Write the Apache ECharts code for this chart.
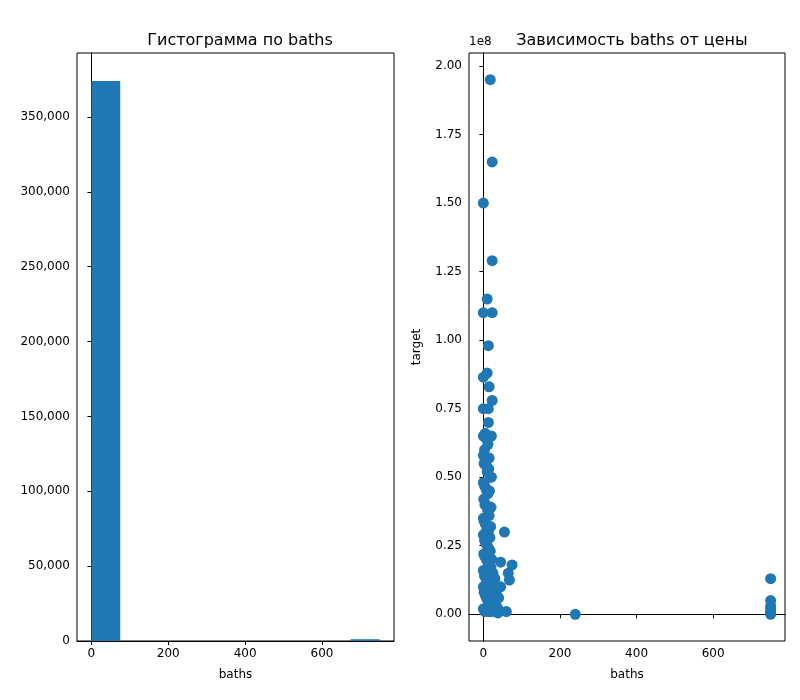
<!DOCTYPE html>
<html>
<head>
<meta charset="utf-8">
<script src="https://cdn.jsdelivr.net/npm/echarts@6/dist/echarts.min.js"></script>
<style>html,body{margin:0;padding:0;background:#fff}#main{width:800px;height:700px}</style>
</head>
<body>
<div id="main"></div>
<script>
// гистограмма: 10 корзин по 75
var binStarts = [0, 75, 150, 225, 300, 375, 450, 525, 600, 675];
var binCounts = [374000, 40, 5, 10, 0, 0, 0, 0, 0, 1200];
var histTicks = [0, 50000, 100000, 150000, 200000, 250000, 300000, 350000];

// scatter: baths vs target (target в единицах 1e8)
var baths = [18, 23, 0, 23, 10, 0, 23, 13, 0, 10, 15, 23, 0, 13, 13, 21, 0, 5, 8, 12, 3, 15, 21,
  0, 2, 5, 8, 10, 14, 18, 0, 3, 6, 9, 12, 16, 20, 1, 4, 7, 11, 15, 19, 0, 2, 5, 9, 13, 17,
  0, 3, 6, 10, 14, 18, 22, 1, 4, 8, 12, 16, 20, 25, 30, 0, 3, 7, 11, 15, 20, 25, 30, 35, 40,
  0, 2, 5, 8, 12, 16, 22, 28, 34, 38, 0, 4, 9, 14, 20, 26, 32, 38, 45, 55, 45, 75, 65, 68, 60, 240,
  750, 750, 750, 750, 750, 750, 750];
var target = [1.95, 1.65, 1.50, 1.29, 1.15, 1.10, 1.10, 0.98, 0.865, 0.88, 0.83, 0.78, 0.75, 0.75, 0.70, 0.65, 0.65, 0.66, 0.64, 0.62, 0.60, 0.57, 0.50,
  0.58, 0.55, 0.56, 0.54, 0.52, 0.53, 0.50, 0.48, 0.47, 0.46, 0.45, 0.44, 0.45, 0.39, 0.42, 0.40, 0.40, 0.38, 0.36, 0.32, 0.35, 0.34, 0.33, 0.31, 0.30, 0.28,
  0.29, 0.27, 0.26, 0.25, 0.24, 0.23, 0.20, 0.22, 0.21, 0.20, 0.19, 0.18, 0.17, 0.15, 0.13, 0.16, 0.14, 0.13, 0.12, 0.11, 0.10, 0.09, 0.08, 0.07, 0.06,
  0.10, 0.08, 0.07, 0.06, 0.05, 0.04, 0.05, 0.04, 0.03, 0.02, 0.02, 0.01, 0.02, 0.01, 0.01, 0.02, 0.01, 0.005, 0.10, 0.30, 0.19, 0.18, 0.15, 0.125, 0.01, 0.0,
  0.13, 0.05, 0.03, 0.02, 0.01, 0.005, 0.0];
var xTicks = [0, 200, 400, 600];
var yTicks = [0, 0.25, 0.5, 0.75, 1.0, 1.25, 1.5, 1.75, 2.0];

var histData = binStarts.map(function (s, i) { return [s, s + 75, binCounts[i]]; });
var pts = baths.map(function (b, i) { return [b, target[i]]; });

var blue = '#1f77b4';
var txt = { color: '#000', fontFamily: 'DejaVu Sans', fontSize: 12 };
function axLine() { return { show: true, lineStyle: { color: '#000', width: 1 } }; }

var chart = echarts.init(document.getElementById('main'));
var option = {
  animation: false,
  title: [
    { text: 'Гистограмма по baths', left: 235, top: 28, textAlign: 'center',
      textStyle: { fontFamily: 'DejaVu Sans', fontSize: 16, fontWeight: 'normal', color: '#000' } },
    { text: 'Зависимость baths от цены', left: 627, top: 28, textAlign: 'center',
      textStyle: { fontFamily: 'DejaVu Sans', fontSize: 16, fontWeight: 'normal', color: '#000' } }
  ],
  grid: [
    { left: 77, right: 406, top: 53, bottom: 59, show: true, borderColor: '#000', borderWidth: 1 },
    { left: 469, right: 15, top: 53, bottom: 59, show: true, borderColor: '#000', borderWidth: 1 }
  ],
  xAxis: [
    { gridIndex: 0, type: 'value', min: -37.5, max: 787.5, name: 'baths', nameLocation: 'middle', nameGap: 28,
      nameTextStyle: txt, splitLine: { show: false }, axisLine: axLine(),
      axisTick: { show: true, customValues: xTicks, length: 4, lineStyle: { color: '#000' } },
      axisLabel: Object.assign({ customValues: xTicks, margin: 7 }, txt) },
    { gridIndex: 1, type: 'value', min: -37.5, max: 787.5, name: 'baths', nameLocation: 'middle', nameGap: 28,
      nameTextStyle: txt, splitLine: { show: false }, axisLine: axLine(),
      axisTick: { show: true, customValues: xTicks, length: 4, lineStyle: { color: '#000' } },
      axisLabel: Object.assign({ customValues: xTicks, margin: 7 }, txt) }
  ],
  yAxis: [
    { gridIndex: 0, type: 'value', min: 0, max: 392700, splitLine: { show: false }, axisLine: axLine(),
      axisTick: { show: true, customValues: histTicks, length: 4, lineStyle: { color: '#000' } },
      axisLabel: Object.assign({ customValues: histTicks, margin: 7 }, txt) },
    { gridIndex: 1, type: 'value', min: -0.0975, max: 2.0475, name: 'target', nameLocation: 'middle', nameGap: 46,
      nameRotate: 90, nameTextStyle: txt, splitLine: { show: false }, axisLine: axLine(),
      axisTick: { show: true, customValues: yTicks, length: 4, lineStyle: { color: '#000' } },
      axisLabel: Object.assign({ customValues: yTicks, margin: 7, formatter: function (v) { return v.toFixed(2); } }, txt) }
  ],
  graphic: [
    { type: 'text', left: 469, top: 36, style: { text: '1e8', fill: '#000', font: '12px DejaVu Sans' } }
  ],
  series: [
    {
      type: 'custom', xAxisIndex: 0, yAxisIndex: 0, data: histData,
      renderItem: function (params, api) {
        var p0 = api.coord([api.value(0), api.value(2)]);
        var p1 = api.coord([api.value(1), 0]);
        return { type: 'rect', shape: { x: p0[0], y: p0[1], width: p1[0] - p0[0], height: p1[1] - p0[1] },
          style: { fill: blue } };
      }
    },
    {
      type: 'scatter', xAxisIndex: 1, yAxisIndex: 1, data: pts, symbolSize: 11,
      itemStyle: { color: blue, opacity: 1 }
    }
  ]
};
chart.setOption(option);
</script>
</body>
</html>
